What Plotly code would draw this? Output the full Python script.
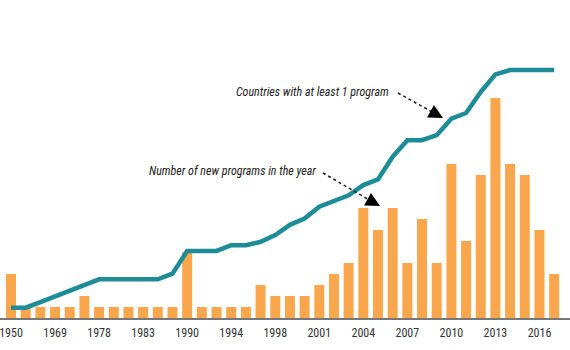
import plotly.graph_objects as go

years = ["1950", "1960", "1965", "1969", "1972", "1975", "1978", "1980", "1981",
         "1983", "1985", "1988", "1990", "1991", "1993", "1994", "1995", "1997",
         "1998", "1999", "2000", "2001", "2002", "2003", "2004", "2005", "2006",
         "2007", "2008", "2009", "2010", "2011", "2012", "2013", "2014", "2015",
         "2016", "2017"]
new_programs = [4, 1, 1, 1, 1, 2, 1, 1, 1, 1, 1, 1, 6, 1, 1, 1, 1, 3, 2, 2, 2,
                3, 4, 5, 10, 8, 10, 5, 9, 5, 14, 7, 13, 20, 14, 13, 8, 4]
countries = [1, 1, 2, 3, 4, 5, 6, 6, 6, 6, 6, 7, 11, 11, 11, 12, 12, 12.6, 13.8,
             15.6, 16.7, 18.8, 19.7, 20.8, 22.6, 23.6, 27.6, 30.5, 30.5, 31.4,
             34.3, 35.3, 39.0, 42.1, 42.85, 42.85, 42.85, 42.85]
tick_labels = ["1950", "1969", "1978", "1983", "1990", "1994", "1998", "2001",
               "2004", "2007", "2010", "2013", "2016"]

W, H = 570, 350
PB = 318  # plot bottom in px


def px(x):
    return x / W


def py(y):
    return 1 - y / PB


FONT = "Liberation Sans Narrow, Roboto Condensed, Roboto, sans-serif"

fig = go.Figure()
fig.add_trace(go.Bar(x=years, y=new_programs, marker=dict(color="#f9a64c", line=dict(width=0)),
                     yaxis="y", name="Number of new programs in the year"))
fig.add_trace(go.Scatter(x=years, y=countries, mode="lines", yaxis="y2",
                         line=dict(color="#1d8c97", width=4.5),
                         name="Countries with at least 1 program"))

shapes = []
annotations = []
for (sx, sy, ex, ey, tx, ty, text, cx, cy) in [
    (398, 93, 434, 113, 443, 118, "Countries with at least 1 program", 312.5, 92),
    (323, 173, 371, 201, 380, 206, "Number of new programs in the year", 232.5, 171),
]:
    shapes.append(dict(type="line", xref="paper", yref="paper",
                       x0=px(sx), y0=py(sy), x1=px(ex), y1=py(ey),
                       line=dict(color="#222", width=1.6, dash="dot")))
    annotations.append(dict(xref="paper", yref="paper", x=px(tx), y=py(ty),
                            ax=-10, ay=-5.5, text="", showarrow=True, arrowhead=2,
                            arrowsize=1.9, arrowwidth=1.5, arrowcolor="#000", standoff=0))
    annotations.append(dict(xref="paper", yref="paper", x=px(cx), y=py(cy),
                            text="<i>" + text + "</i>", showarrow=False,
                            font=dict(family=FONT, size=12, color="#222"),
                            xanchor="center", yanchor="middle"))

fig.update_layout(
    width=W, height=H,
    margin=dict(l=0, r=0, t=0, b=H - PB),
    plot_bgcolor="white", paper_bgcolor="white",
    showlegend=False,
    bargap=0.32,
    xaxis=dict(type="category", range=[-0.75, 38.08], tickmode="array",
               tickvals=tick_labels, ticktext=tick_labels, showgrid=False,
               showline=True, linecolor="#777", linewidth=1.5, ticks="",
               ticklabelstandoff=3,
               tickfont=dict(family=FONT, size=12, color="#333"), zeroline=False),
    yaxis=dict(range=[0, PB / 11.0], visible=False, showgrid=False, zeroline=False),
    yaxis2=dict(range=[-0.81, 55.2], overlaying="y", visible=False, showgrid=False,
                zeroline=False),
    shapes=shapes,
    annotations=annotations,
)

fig.write_html("out.html")
